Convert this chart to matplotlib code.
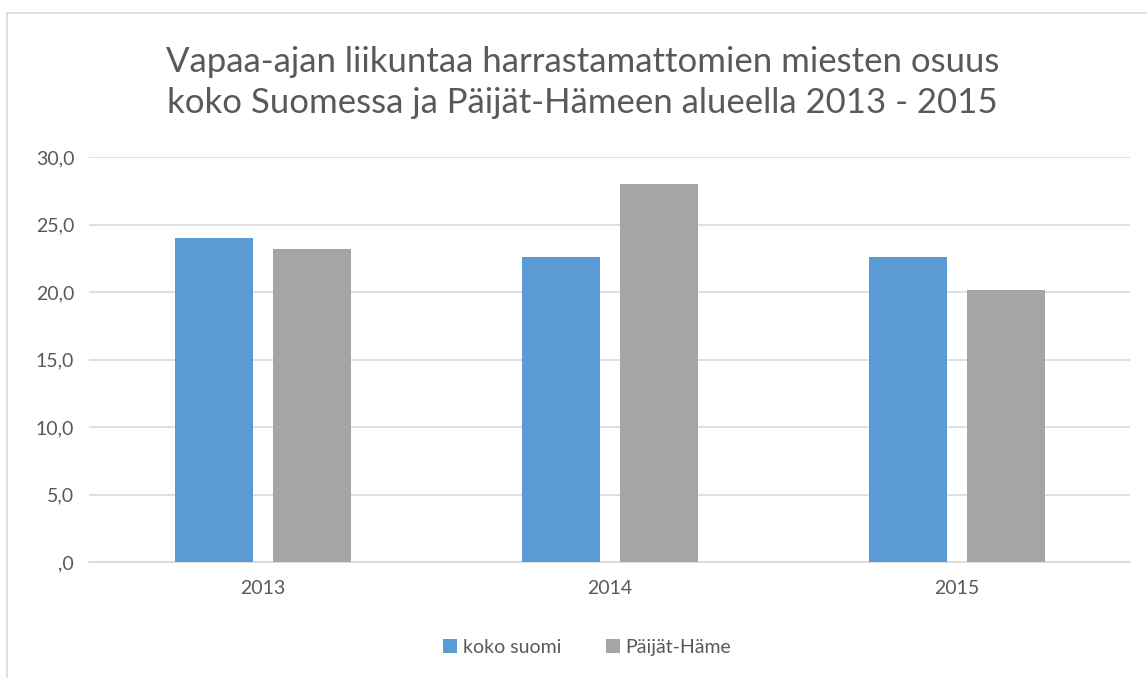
import matplotlib.pyplot as plt
import numpy as np
from matplotlib.patches import Rectangle

# data
years = ["2013", "2014", "2015"]
koko_suomi = [24.0, 22.6, 22.6]
paijat_hame = [23.2, 28.0, 20.2]
series_names = ["koko suomi", "Päijät-Häme"]
yticks = [0, 5, 10, 15, 20, 25, 30]
ytick_labels = [",0", "5,0", "10,0", "15,0", "20,0", "25,0", "30,0"]

plt.rcParams["font.family"] = ["Lato", "DejaVu Sans"]
text_col = "#595959"

fig = plt.figure(figsize=(11.47, 6.78), dpi=100)
ax = fig.add_axes([0.078, 0.171, 0.9076, 0.597])

# chart area border
fig.patches.append(Rectangle((7 / 1147, -0.01), 1.1, 1 - 13 / 678 + 0.01,
                             transform=fig.transFigure, fill=False,
                             edgecolor="#D9D9D9", linewidth=1.2))

x = np.arange(len(years))
w = 0.225
off = 0.142
ax.bar(x - off, koko_suomi, w, color="#5B9BD5", label=series_names[0], zorder=3)
ax.bar(x + off, paijat_hame, w, color="#A5A5A5", label=series_names[1], zorder=3)

ax.set_xlim(-0.5, 2.5)
ax.set_ylim(0, 30)
ax.set_xticks(x)
ax.set_xticklabels(years)
ax.set_yticks(yticks)
ax.set_yticklabels(ytick_labels)
ax.tick_params(length=0, labelsize=14, colors=text_col, pad=11)
ax.tick_params(axis="x", pad=13)
ax.grid(axis="y", color="#D9D9D9", linewidth=1.2, zorder=0)
for s in ["top", "right", "left"]:
    ax.spines[s].set_visible(False)
ax.spines["bottom"].set_color("#D9D9D9")
ax.spines["bottom"].set_linewidth(1.2)

fig.text(0.508, 0.878, "Vapaa-ajan liikuntaa harrastamattomien miesten osuus\n"
         "koko Suomessa ja Päijät-Hämeen alueella 2013 - 2015",
         ha="center", va="center", fontsize=25, color=text_col, linespacing=1.35)

fig.legend(loc="center", bbox_to_anchor=(0.512, 0.045), ncol=2, frameon=False,
           fontsize=14, labelcolor=text_col, handlelength=0.7, handleheight=0.7,
           handletextpad=0.3, columnspacing=2.3)

fig.savefig("out.png", dpi=100)
